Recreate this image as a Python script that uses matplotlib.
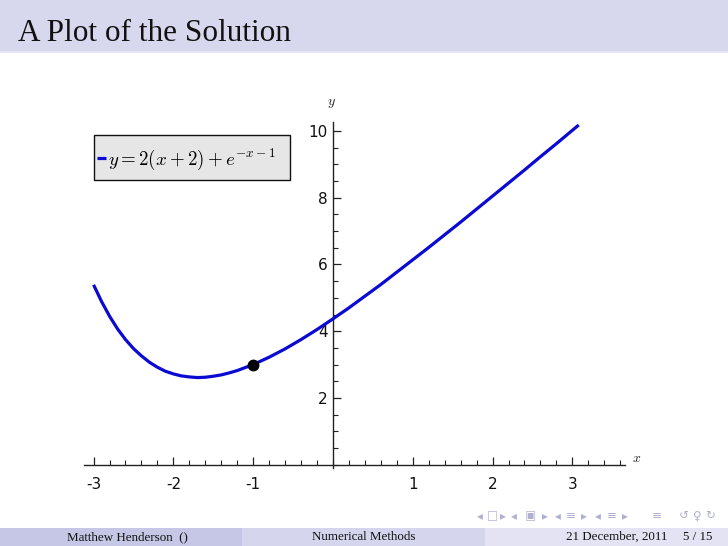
import matplotlib
matplotlib.use("Agg")
import matplotlib.pyplot as plt
from matplotlib.patches import Rectangle
from matplotlib.ticker import MultipleLocator, FixedLocator

# ---- data ----
x_vals = [-3.0, -2.9, -2.8, -2.7, -2.6, -2.5, -2.4, -2.3, -2.2, -2.1, -2.0,
          -1.9, -1.8, -1.7, -1.6, -1.5, -1.4, -1.3, -1.2, -1.1, -1.0,
          -0.8, -0.6, -0.4, -0.2, 0.0, 0.2, 0.4, 0.6, 0.8, 1.0,
          1.2, 1.4, 1.6, 1.8, 2.0, 2.2, 2.4, 2.6, 2.8, 3.0, 3.08]
y_vals = [5.39, 4.89, 4.45, 4.07, 3.75, 3.48, 3.26, 3.07, 2.92, 2.80, 2.72,
          2.66, 2.63, 2.61, 2.62, 2.65, 2.69, 2.75, 2.82, 2.91, 3.00,
          3.22, 3.47, 3.75, 4.05, 4.37, 4.70, 5.05, 5.40, 5.77, 6.14,
          6.51, 6.89, 7.27, 7.66, 8.05, 8.44, 8.83, 9.23, 9.62, 10.02, 10.18]
point_x = [-1.0]
point_y = [3.0]
x_ticks = [-3, -2, -1, 1, 2, 3]
x_tick_labels = ["-3", "-2", "-1", "1", "2", "3"]
y_ticks = [2, 4, 6, 8, 10]
y_tick_labels = ["2", "4", "6", "8", "10"]
legend_label = r"$y=2(x+2)+e^{-x-1}$"
title = "A Plot of the Solution"
footer_left = "Matthew Henderson  ()"
footer_mid = "Numerical Methods"
footer_date = "21 December, 2011"
footer_page = "5 / 15"

plt.rcParams["mathtext.fontset"] = "cm"

W, H = 728, 546
fig = plt.figure(figsize=(W / 100, H / 100), dpi=100)
fig.patch.set_facecolor("white")

def fx(px):
    return px / W

def fy(py):
    return 1 - py / H

# title bar
fig.patches.append(Rectangle((0, fy(52)), 1, 52 / H, transform=fig.transFigure,
                             facecolor="#d7d7ee", edgecolor="none", zorder=0))
fig.patches.append(Rectangle((0, fy(53)), 1, 2 / H, transform=fig.transFigure,
                             facecolor="#e4e4f4", edgecolor="none", zorder=0))
fig.text(fx(18), fy(41), title, fontsize=22.5, family="Liberation Serif",
         color="#111111", va="baseline", ha="left")

# footer
fig.patches.append(Rectangle((0, 0), fx(242), 18 / H, transform=fig.transFigure,
                             facecolor="#c6c6e6", edgecolor="none", zorder=0))
fig.patches.append(Rectangle((fx(242), 0), fx(243), 18 / H, transform=fig.transFigure,
                             facecolor="#d5d5ee", edgecolor="none", zorder=0))
fig.patches.append(Rectangle((fx(485), 0), fx(243), 18 / H, transform=fig.transFigure,
                             facecolor="#e3e3f4", edgecolor="none", zorder=0))
fs_foot = 9.4
fig.text(fx(127), fy(537), footer_left, fontsize=fs_foot, family="Liberation Serif",
         ha="center", va="center", color="#111111")
fig.text(fx(364), fy(537), footer_mid, fontsize=fs_foot, family="Liberation Serif",
         ha="center", va="center", color="#111111")
fig.text(fx(667), fy(537), footer_date, fontsize=fs_foot, family="Liberation Serif",
         ha="right", va="center", color="#111111")
fig.text(fx(712), fy(537), footer_page, fontsize=fs_foot, family="Liberation Serif",
         ha="right", va="center", color="#111111")
# navigation symbols
nav_items = [(480, "◂"), (492, "□"), (503, "▸"), (514, "◂"), (530, "▣"), (545, "▸"),
             (558, "◂"), (571, "≡"), (584, "▸"), (598, "◂"), (612, "≡"), (625, "▸"),
             (657, "≡"), (684, "↺"), (697, "♀"), (710, "↻")]
for px, ch in nav_items:
    fig.text(fx(px), fy(516), ch, fontsize=8.5, family="DejaVu Sans",
             ha="center", va="center", color="#b0b0d2")

# axes
left, right, top, bottom = 84, 625, 122, 468
ax = fig.add_axes([fx(left), fy(bottom), (right - left) / W, (bottom - top) / H])
ax.set_facecolor("none")
ax.set_xlim(-3.12, 3.66)
ax.set_ylim(-0.1, 10.27)

ax.plot(x_vals, y_vals, color="#0a0ad2", lw=2.3, solid_capstyle="butt",
        label=legend_label, zorder=3)
ax.plot(point_x, point_y, "o", color="black", markersize=7.5, zorder=4)

for s in ["top", "right"]:
    ax.spines[s].set_visible(False)
ax.spines["left"].set_position(("data", 0))
ax.spines["bottom"].set_position(("data", 0))
for s in ["left", "bottom"]:
    ax.spines[s].set_color("#222222")
    ax.spines[s].set_linewidth(1.0)

ax.xaxis.set_major_locator(FixedLocator(x_ticks))
ax.set_xticklabels(x_tick_labels)
ax.xaxis.set_minor_locator(MultipleLocator(0.2))
ax.yaxis.set_major_locator(FixedLocator(y_ticks))
ax.set_yticklabels(y_tick_labels)
ax.yaxis.set_minor_locator(MultipleLocator(0.5))

ax.tick_params(axis="both", which="major", direction="in", length=6, width=0.9,
               color="#222222", labelsize=11, labelcolor="#111111")
ax.tick_params(axis="both", which="minor", direction="in", length=3.5, width=0.8,
               color="#222222")
ax.tick_params(axis="x", which="major", pad=9)
ax.tick_params(axis="y", which="major", pad=4)

fig.text(fx(637), fy(458), r"$x$", fontsize=10, ha="center", va="center", color="#222222")
fig.text(fx(331), fy(103), r"$y$", fontsize=10, ha="center", va="center", color="#222222")

# legend: frame drawn as a patch, entries via ax.legend
frame = Rectangle((fx(94), fy(180)), (290 - 94) / W, (180 - 135) / H,
                  transform=fig.transFigure, facecolor="#e6e6e6",
                  edgecolor="#111111", linewidth=1.0, zorder=4)
ax.add_artist(frame)
frame.set_clip_on(False)
leg = ax.legend(loc="center left", bbox_to_anchor=(fx(97), fy(159)),
                bbox_transform=fig.transFigure, borderaxespad=0, borderpad=0,
                frameon=False, handlelength=0.45, handletextpad=0.15,
                fontsize=13.6)
leg.set_zorder(6)

fig.savefig("out.png", dpi=100)
